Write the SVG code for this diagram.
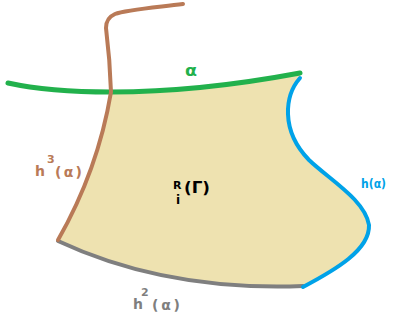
<svg xmlns="http://www.w3.org/2000/svg" width="396" height="321" viewBox="0 0 396 321">
<style>
.ln{fill:none;stroke-linecap:round;stroke-linejoin:round}
.t{font-family:"DejaVu Sans","Liberation Sans",sans-serif;font-weight:bold}
</style>
<rect width="396" height="321" fill="#ffffff"/>
<g id="region">
<path d="M111,92 C160,92 220,88 300,73 L300,78 C285,95 280,130 309,160 C330,180 365,200 369,225 C370,250 335,270 303,287 C200,290 120,270 58,241 Q98,170 111,92 Z" fill="#eee2b0"/>
<text class="t" x="173" y="189" font-size="11" fill="#000">R</text>
<text class="t" x="176" y="204" font-size="12" fill="#000">i</text>
<text class="t" x="184" y="193" font-size="15" fill="#000" textLength="26" lengthAdjust="spacingAndGlyphs">(Γ)</text>
</g>
<g id="connectors">
<path id="h2-alpha" class="ln" d="M58,241 C120,270 200,290 303,286" stroke="#7f7f7f" stroke-width="4"/>
<path id="h-alpha" class="ln" d="M300,78 C285,95 280,130 309,160 C330,180 365,200 369,225 C370,250 335,270 303,287" stroke="#00a2e8" stroke-width="4"/>
<path id="alpha" class="ln" d="M8,83 C40,90 80,92 111,92 C160,92 220,88 300,73" stroke="#22b14c" stroke-width="5"/>
<path id="h3-alpha" class="ln" d="M183,4 C150,8 125,10 115,14 Q106,18 106,28 Q110,60 111,92 Q98,170 58,240" stroke="#b97a57" stroke-width="4"/>
</g>
<g id="labels">
<text class="t" x="185" y="76" font-size="15" fill="#22b14c" textLength="12" lengthAdjust="spacingAndGlyphs">α</text>
<text class="t" x="361" y="188" font-size="13" fill="#00a2e8" textLength="25" lengthAdjust="spacingAndGlyphs">h(α)</text>
<g fill="#b97a57">
<text class="t" x="35" y="176" font-size="14">h</text>
<text class="t" x="47" y="163" font-size="11">3</text>
<text class="t" x="55" y="177" font-size="14" textLength="27" lengthAdjust="spacing">(α)</text>
</g>
<g fill="#7f7f7f">
<text class="t" x="133" y="309" font-size="14">h</text>
<text class="t" x="141" y="296" font-size="11">2</text>
<text class="t" x="152" y="310" font-size="14" textLength="28" lengthAdjust="spacing">(α)</text>
</g>
</g>
</svg>
